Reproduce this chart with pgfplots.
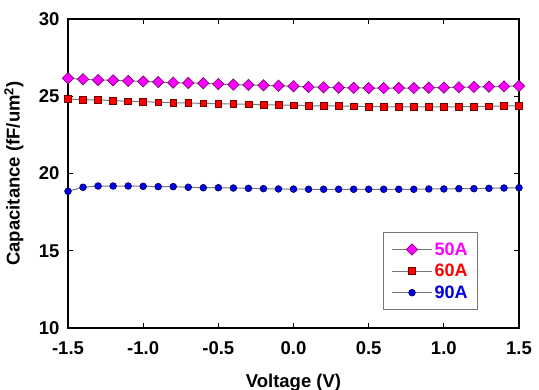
\documentclass[border=0pt]{standalone}
\usepackage{pgfplots}
\pgfplotsset{compat=1.18}
\usepackage{fontspec}
\setmainfont{Liberation Sans}
\definecolor{cmag}{RGB}{255,0,255}
\definecolor{cmagd}{RGB}{110,0,110}
\definecolor{cred}{RGB}{255,0,0}
\definecolor{credd}{RGB}{110,0,0}
\definecolor{cblue}{RGB}{0,0,230}
\definecolor{cblued}{RGB}{0,0,90}
\definecolor{cline}{RGB}{120,120,120}
\pgfplotstableread{
x y
-1.5 26.16
-1.4 26.10
-1.3 26.05
-1.2 26.03
-1.1 25.99
-1.0 25.96
-0.9 25.92
-0.8 25.88
-0.7 25.86
-0.6 25.84
-0.5 25.79
-0.4 25.75
-0.3 25.73
-0.2 25.71
-0.1 25.68
0.0 25.65
0.1 25.60
0.2 25.58
0.3 25.56
0.4 25.54
0.5 25.53
0.6 25.53
0.7 25.53
0.8 25.53
0.9 25.55
1.0 25.56
1.1 25.58
1.2 25.60
1.3 25.62
1.4 25.64
1.5 25.66
}\dataA
\pgfplotstableread{
x y
-1.5 24.82
-1.4 24.78
-1.3 24.76
-1.2 24.72
-1.1 24.67
-1.0 24.65
-0.9 24.61
-0.8 24.58
-0.7 24.56
-0.6 24.54
-0.5 24.52
-0.4 24.50
-0.3 24.48
-0.2 24.45
-0.1 24.43
0.0 24.42
0.1 24.39
0.2 24.37
0.3 24.37
0.4 24.35
0.5 24.33
0.6 24.32
0.7 24.32
0.8 24.32
0.9 24.32
1.0 24.32
1.1 24.32
1.2 24.33
1.3 24.35
1.4 24.37
1.5 24.37
}\dataB
\pgfplotstableread{
x y
-1.5 18.85
-1.4 19.11
-1.3 19.19
-1.2 19.19
-1.1 19.19
-1.0 19.17
-0.9 19.15
-0.8 19.15
-0.7 19.11
-0.6 19.08
-0.5 19.08
-0.4 19.06
-0.3 19.04
-0.2 19.02
-0.1 19.00
0.0 18.99
0.1 18.98
0.2 18.98
0.3 18.98
0.4 18.98
0.5 18.98
0.6 18.98
0.7 18.98
0.8 18.98
0.9 19.00
1.0 19.00
1.1 19.02
1.2 19.02
1.3 19.04
1.4 19.06
1.5 19.08
}\dataC
\begin{document}
\begin{tikzpicture}
\begin{axis}[name=ax, scale only axis, width=451pt, height=309pt,
  xmin=-1.5, xmax=1.5, ymin=10, ymax=30,
  xtick={-1.5,-1.0,-0.5,0,0.5,1.0,1.5}, ytick={10,15,20,25,30},
  xticklabel style={/pgf/number format/fixed, /pgf/number format/fixed zerofill, /pgf/number format/precision=1, yshift=-10pt},
  /pgf/number format/assume math mode=true,
  tick label style={font=\fontsize{18.5}{21}\selectfont\bfseries},
  yticklabel style={xshift=-5pt},
  tick align=inside, major tick length=5pt,
  tick style={line width=1.2pt, black},
  axis line style={line width=2pt},
  xlabel={Voltage (V)},
  ylabel={Capacitance (fF/um\textsuperscript{2})},
  label style={font=\fontsize{18.5}{21}\selectfont\bfseries},
  xlabel style={at={(axis description cs:0.5,0)}, anchor=north, inner sep=0pt, yshift=-46pt},
  ylabel style={at={(axis description cs:-0.1197,0.5)}, anchor=center},
  legend style={at={(0.909,0.058)}, anchor=south east, draw=cline, line width=0.8pt,
    font=\fontsize{18}{21}\selectfont\bfseries, row sep=3.5pt, inner xsep=8pt, inner ysep=8pt,
    cells={anchor=west}, /tikz/every even column/.append style={column sep=8pt}},
  legend image code/.code={\draw[mark repeat=2,mark phase=2] plot coordinates {(0pt,0pt) (20pt,0pt) (40pt,0pt)};},
]
\addplot[cline, line width=1pt, mark=square*, mark size=4pt, mark options={rotate=45, fill=cmag, draw=cmagd, line width=0.6pt}] table {\dataA};
\addlegendentry{\textcolor{cmag}{50A}}
\addplot[cline, line width=1pt, mark=square*, mark size=3.4pt, mark options={fill=cred, draw=credd, line width=0.6pt}] table {\dataB};
\addlegendentry{\textcolor{cred}{60A}}
\addplot[cline, line width=1pt, mark=*, mark size=3.4pt, mark options={fill=cblue, draw=cblued, line width=0.6pt}] table {\dataC};
\addlegendentry{\textcolor{cblue}{90A}}
\end{axis}
\pgfresetboundingbox
\useasboundingbox ([shift={(-68pt,-61pt)}]ax.south west) rectangle ([shift={(20pt,19pt)}]ax.north east);
\end{tikzpicture}
\end{document}
